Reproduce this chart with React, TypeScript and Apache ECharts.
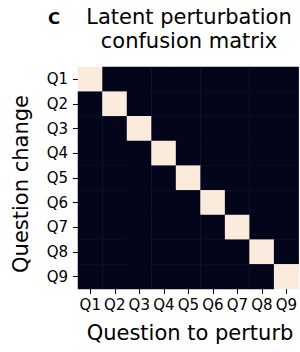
import React, { useEffect, useRef } from "react";
import * as echarts from "echarts";

const questions = ["Q1", "Q2", "Q3", "Q4", "Q5", "Q6", "Q7", "Q8", "Q9"];
// rows: question change (y), columns: question to perturb (x)
const matrix = [
  [1, 0, 0, 0, 0, 0, 0, 0, 0],
  [0, 1, 0, 0, 0, 0, 0, 0, 0],
  [0, 0, 1, 0, 0, 0, 0, 0, 0],
  [0, 0, 0, 1, 0, 0, 0, 0, 0],
  [0, 0, 0, 0, 1, 0, 0, 0, 0],
  [0, 0, 0, 0, 0, 1, 0, 0, 0],
  [0, 0, 0, 0, 0, 0, 1, 0, 0],
  [0, 0, 0, 0, 0, 0, 0, 1, 0],
  [0, 0, 0, 0, 0, 0, 0, 0, 1],
];
const panelLabel = "C";
const titleLines = ["Latent perturbation", "confusion matrix"];
const xTitle = "Question to perturb";
const yTitle = "Question change";

const FONT = "DejaVu Sans";

export default function App() {
  const ref = useRef<HTMLDivElement>(null);
  useEffect(() => {
    if (!ref.current) return;
    const chart = echarts.init(ref.current, undefined, { renderer: "svg" });
    const data: number[][] = [];
    matrix.forEach((row, yi) => row.forEach((v, xi) => data.push([xi, yi, v])));
    chart.setOption({
      animation: false,
      backgroundColor: "#ffffff",
      grid: { left: 78, top: 67, width: 222, height: 222 },
      xAxis: {
        type: "category",
        data: questions,
        axisLine: { show: false },
        axisTick: { show: true, alignWithLabel: true, length: 5, lineStyle: { color: "#000", width: 1 } },
        axisLabel: { color: "#000", fontFamily: FONT, fontSize: 15, margin: 8, interval: 0 },
        splitLine: { show: false },
      },
      yAxis: {
        type: "category",
        data: questions,
        inverse: true,
        axisLine: { show: false },
        axisTick: { show: true, alignWithLabel: true, length: 5, lineStyle: { color: "#000", width: 1 } },
        axisLabel: { color: "#000", fontFamily: FONT, fontSize: 15, margin: 10, interval: 0 },
        splitLine: { show: false },
      },
      visualMap: {
        show: false,
        min: 0,
        max: 1,
        inRange: { color: ["#03051A", "#FAEBDD"] },
      },
      series: [
        {
          type: "heatmap",
          data,
          itemStyle: { borderWidth: 0 },
          emphasis: { disabled: true },
        },
      ],
      graphic: [
        {
          type: "text",
          left: 48,
          top: 10,
          style: { text: panelLabel, font: `bold 16.5px "${FONT}"`, fill: "#000" },
        },
        {
          type: "text",
          x: 189,
          y: 17,
          style: { text: titleLines[0], font: `21px "${FONT}"`, fill: "#000", align: "center", verticalAlign: "middle" },
        },
        {
          type: "text",
          x: 189,
          y: 41,
          style: { text: titleLines[1], font: `21px "${FONT}"`, fill: "#000", align: "center", verticalAlign: "middle" },
        },
        {
          type: "text",
          x: 190,
          y: 333,
          style: { text: xTitle, font: `21px "${FONT}"`, fill: "#000", align: "center", verticalAlign: "middle" },
        },
        {
          type: "text",
          x: 21,
          y: 184,
          rotation: Math.PI / 2,
          style: { text: yTitle, font: `21px "${FONT}"`, fill: "#000", align: "center", verticalAlign: "middle" },
        },
      ],
    });
    return () => chart.dispose();
  }, []);
  return (
    <div
      ref={ref}
      style={{ position: "fixed", left: 0, top: 0, width: 300, height: 352, background: "#fff" }}
    />
  );
}
